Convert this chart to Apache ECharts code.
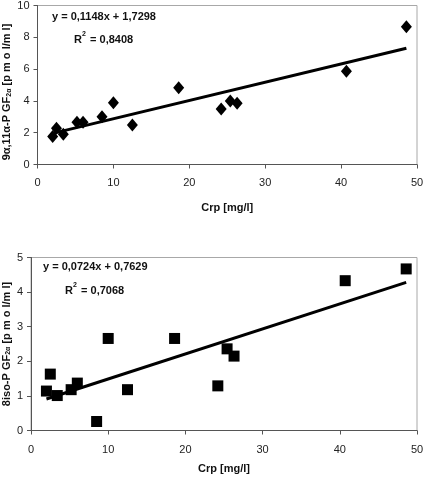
<!DOCTYPE html>
<html><head><meta charset="utf-8">
<script src="https://cdn.jsdelivr.net/npm/echarts@6/dist/echarts.min.js"></script>
<style>html,body{margin:0;padding:0;background:#fff}#c{width:424px;height:478px}</style>
</head><body><div id="c"></div>
<script>
const crp = [2.0, 2.5, 3.4, 5.2, 6.0, 8.5, 10.0, 12.5, 18.6, 24.2, 25.4, 26.3, 40.7, 48.6];
const pgf911 = [1.76, 2.28, 1.90, 2.66, 2.66, 3.01, 3.89, 2.49, 4.83, 3.49, 4.00, 3.85, 5.86, 8.66];
const iso8 = [1.14, 1.63, 1.01, 1.18, 1.37, 0.26, 2.66, 1.18, 2.66, 1.29, 2.36, 2.15, 4.33, 4.67];
const trendTopX = [2.0, 48.6];
const trendTopY = [1.96, 7.31];
const trendBotX = [2.0, 48.6];
const trendBotY = [0.91, 4.28];
const eqTop = ['y = 0,1148x + 1,7298', '0,8408'];
const eqBot = ['y = 0,0724x + 0,7629', '0,7068'];
const xTitle = 'Crp [mg/l]';

const F = 'Liberation Sans, Arial, sans-serif';
const pair = (xs, ys) => xs.map((x, i) => [x, ys[i]]);

const chart = echarts.init(document.getElementById('c'), null, {renderer: 'canvas'});
const axisLine = {show: true, lineStyle: {color: '#555', width: 1}};
const xAx = (gi, gap, margin) => ({
  type: 'value', gridIndex: gi, min: 0, max: 50, interval: 10,
  axisLine: axisLine, axisTick: {show: true, length: 4, lineStyle: {color: '#555'}},
  splitLine: {show: false},
  axisLabel: {color: '#222', fontFamily: F, fontSize: 11, margin: margin},
  name: xTitle, nameLocation: 'middle', nameGap: gap, nameMoveOverlap: false,
  nameTextStyle: {fontFamily: F, fontSize: 11, fontWeight: 'bold', color: '#111'}
});
const yAx = (gi, max, interval, nameParts, gap, pad) => ({
  type: 'value', gridIndex: gi, min: 0, max: max, interval: interval,
  axisLine: axisLine, axisTick: {show: true, length: 4, lineStyle: {color: '#555'}},
  splitLine: {show: false},
  axisLabel: {color: '#222', fontFamily: F, fontSize: 11, margin: 8},
  name: '{a|' + nameParts[0] + '}{s|2α}{a|' + nameParts[1] + '}',
  nameLocation: 'middle', nameGap: gap, nameRotate: 90, nameMoveOverlap: false,
  nameTextStyle: {
    padding: [0, pad, 0, 0],
    rich: {
      a: {fontFamily: F, fontSize: 11, fontWeight: 'bold', color: '#111'},
      s: {fontFamily: F, fontSize: 7, fontWeight: 'bold', color: '#111', verticalAlign: 'bottom', padding: [4, 0, 0, 0]}
    }
  }
});
const eqText = (x, y, txt) => ({type: 'text', left: x, top: y,
  style: {text: txt, font: 'bold 11px ' + F, fill: '#111'}});
const r2 = (x, y, val) => ({type: 'group', left: x, top: y, children: [
  {type: 'text', left: 0, top: 0, style: {text: 'R', font: 'bold 11px ' + F, fill: '#111'}},
  {type: 'text', left: 8, top: -3, style: {text: '2', font: 'bold 7px ' + F, fill: '#111'}},
  {type: 'text', left: 13, top: 0, style: {text: ' = ' + val, font: 'bold 11px ' + F, fill: '#111'}}
]});

chart.setOption({
  animation: false,
  grid: [
    {left: 37.5, right: 7, top: 5.5, height: 159, show: true, borderColor: '#a8a8a8', borderWidth: 1,
      containLabel: false, outerBoundsMode: 'none'},
    {left: 31, right: 7, top: 257.5, height: 173, show: true, borderColor: '#a8a8a8', borderWidth: 1,
      containLabel: false, outerBoundsMode: 'none'}
  ],
  xAxis: [xAx(0, 38, 13), xAx(1, 33, 14)],
  yAxis: [
    yAx(0, 10, 2, ['9α,11α-P GF', ' [p m o l/m l]'], 25, 14),
    yAx(1, 5, 1, ['8iso-P GF', ' [p m o l/m l]'], 19, 0)
  ],
  series: [
    {type: 'scatter', xAxisIndex: 0, yAxisIndex: 0, data: pair(crp, pgf911),
      symbol: 'diamond', symbolSize: [11, 13], itemStyle: {color: '#000', opacity: 1}, z: 3},
    {type: 'line', xAxisIndex: 0, yAxisIndex: 0, data: pair(trendTopX, trendTopY),
      showSymbol: false, symbol: 'none', lineStyle: {color: '#000', width: 3}, z: 2},
    {type: 'scatter', xAxisIndex: 1, yAxisIndex: 1, data: pair(crp, iso8),
      symbol: 'rect', symbolSize: 11, itemStyle: {color: '#000', opacity: 1}, z: 3},
    {type: 'line', xAxisIndex: 1, yAxisIndex: 1, data: pair(trendBotX, trendBotY),
      showSymbol: false, symbol: 'none', lineStyle: {color: '#000', width: 3}, z: 2}
  ],
  graphic: [
    eqText(52, 11, eqTop[0]), r2(74, 31, eqTop[1]),
    eqText(43, 261, eqBot[0]), r2(65, 282, eqBot[1])
  ]
});
</script></body></html>
